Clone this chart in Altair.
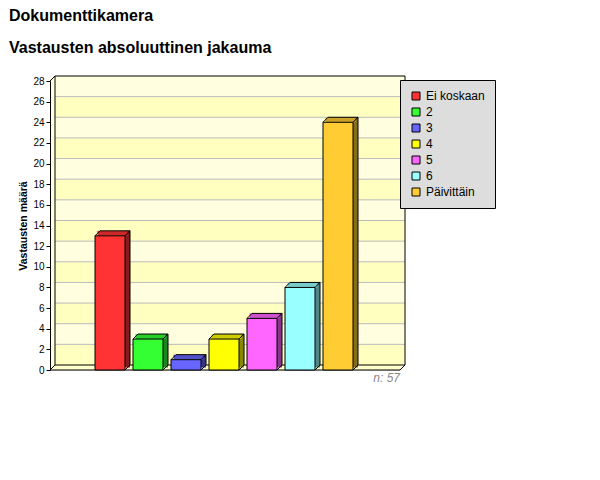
import altair as alt
import pandas as pd

# ---- data ----
categories = ["Ei koskaan", "2", "3", "4", "5", "6", "Päivittäin"]
counts = [13, 3, 1, 3, 5, 8, 24]
colors = ["#FF3333", "#33FF33", "#6666FF", "#FFFF00", "#FF66FF", "#99FFFF", "#FFCC33"]
y_ticks = list(range(0, 29, 2))
title_text = "Dokumenttikamera"
subtitle_text = "Vastausten absoluuttinen jakauma"
y_title = "Vastausten määrä"

# ---- style / layout constants ----
FONT = "Liberation Sans"
W, H = 350, 289          # front plot frame
D = 5                    # 3D depth in px
STEP, FIRST, BAR = 38, 60, 30
LIGHT, DARK = "#FFFFE0", "#FFFFC0"


def shade(hex_color, f):
    r, g, b = (int(hex_color[i:i + 2], 16) for i in (1, 3, 5))
    return "#{:02X}{:02X}{:02X}".format(int(r * f), int(g * f), int(b * f))


bars = pd.DataFrame({
    "cat": categories,
    "idx": list(range(len(categories))),
    "value": counts,
    "topc": [shade(c, 0.8) for c in colors],
    "sidec": [shade(c, 0.53) for c in colors],
})
bands = pd.DataFrame({"lo": y_ticks[:-1], "hi": y_ticks[1:]})
bands["shade"] = [LIGHT if (lo // 2) % 2 == 1 else DARK for lo in bands["lo"]]
grid = pd.DataFrame({"v": y_ticks[1:-1]})
frame = pd.DataFrame({"ymin": [y_ticks[0]], "ymax": [y_ticks[-1]]})

yscale = alt.Scale(domain=[y_ticks[0], y_ticks[-1]], nice=False, zero=True, padding=0)
yaxis = alt.Axis(values=y_ticks, tickSize=4, labelFontSize=10, labelFont=FONT,
                 labelColor="black", labelPadding=2, domainColor="black",
                 tickColor="black", grid=False, title=y_title, titleFont=FONT,
                 titleFontSize=10.5, titleFontWeight="bold", titleColor="black",
                 titlePadding=4, zindex=1)
xscale = alt.Scale(domain=[-FIRST / STEP, (W - FIRST) / STEP], nice=False, zero=False,
                   padding=0)


def Y(field):
    return alt.Y(field, type="quantitative", scale=yscale, axis=yaxis)


X = alt.X("idx:Q", scale=xscale, axis=None)

base_frame = alt.Chart(frame)

# walls
left_wall = base_frame.mark_rect(fill=LIGHT, yOffset=-D / 2, y2Offset=-D / 2).encode(
    x=alt.value(0), x2=alt.value(D), y=Y("ymax"), y2="ymin:Q")
floor = base_frame.mark_rect(fill="#FFFFCC", yOffset=-D, y2Offset=0).encode(
    x=alt.value(D / 2), x2=alt.value(W + D / 2), y=Y("ymin"), y2="ymin:Q")
stripes = alt.Chart(bands).mark_rect(yOffset=-D, y2Offset=-D).encode(
    x=alt.value(D), x2=alt.value(W + D), y=Y("lo"), y2="hi:Q",
    fill=alt.Fill("shade:N", scale=None))
gridlines = alt.Chart(grid).mark_rule(color="#BBBBBB", yOffset=-D).encode(
    x=alt.value(D), x2=alt.value(W + D), y=Y("v"))

edge = dict(color="black", strokeWidth=1)
back_top = base_frame.mark_rule(yOffset=-D, **edge).encode(
    x=alt.value(D), x2=alt.value(W + D), y=Y("ymax"))
back_bottom = base_frame.mark_rule(yOffset=-D, **edge).encode(
    x=alt.value(D), x2=alt.value(W + D), y=Y("ymin"))
back_left = base_frame.mark_rule(yOffset=-D, y2Offset=-D, **edge).encode(
    x=alt.value(D), y=Y("ymax"), y2="ymin:Q")
back_right = base_frame.mark_rule(yOffset=-D, y2Offset=-D, **edge).encode(
    x=alt.value(W + D), y=Y("ymax"), y2="ymin:Q")
front_bottom = base_frame.mark_rule(**edge).encode(
    x=alt.value(0), x2=alt.value(W), y=Y("ymin"))
diag_tl = base_frame.mark_rule(y2Offset=-D, **edge).encode(
    x=alt.value(0), x2=alt.value(D), y=Y("ymax"), y2="ymax:Q")
diag_bl = base_frame.mark_rule(y2Offset=-D, **edge).encode(
    x=alt.value(0), x2=alt.value(D), y=Y("ymin"), y2="ymin:Q")
diag_br = base_frame.mark_rule(y2Offset=-D, **edge).encode(
    x=alt.value(W), x2=alt.value(W + D), y=Y("ymin"), y2="ymin:Q")

# bars (3D)
bb = alt.Chart(bars)
side = bb.mark_bar(size=D, xOffset=BAR / 2 + D / 2, yOffset=-D, y2Offset=-D / 2).encode(
    x=X, y=Y("value"), y2=alt.Y2(datum=0), fill=alt.Fill("sidec:N", scale=None))
top = bb.mark_bar(size=BAR, xOffset=D / 2, yOffset=-D, y2Offset=0).encode(
    x=X, y=Y("value"), y2="value:Q", fill=alt.Fill("topc:N", scale=None))
front = bb.mark_bar(size=BAR, stroke="black", strokeWidth=1).encode(
    x=X, y=Y("value"),
    color=alt.Color("cat:N", scale=alt.Scale(domain=categories, range=colors),
                    legend=alt.Legend(title=None, orient="none", legendX=W, legendY=-1,
                                      fillColor="#DDDDDD", strokeColor="black",
                                      padding=10, symbolType="square", symbolSize=64,
                                      symbolStrokeColor="black", symbolStrokeWidth=1,
                                      symbolOpacity=1, labelFontSize=12,
                                      labelFont=FONT, labelColor="black",
                                      rowPadding=4, labelOffset=4, zindex=2)))
b_top = bb.mark_rule(xOffset=-BAR / 2 + D, x2Offset=BAR / 2 + D, yOffset=-D, **edge).encode(
    x=X, x2="idx:Q", y=Y("value"))
b_right = bb.mark_rule(xOffset=BAR / 2 + D, yOffset=-D, y2Offset=-D, **edge).encode(
    x=X, y=Y("value"), y2=alt.Y2(datum=0))
b_d1 = bb.mark_rule(xOffset=-BAR / 2, x2Offset=-BAR / 2 + D, y2Offset=-D, **edge).encode(
    x=X, x2="idx:Q", y=Y("value"), y2="value:Q")
b_d2 = bb.mark_rule(xOffset=BAR / 2, x2Offset=BAR / 2 + D, y2Offset=-D, **edge).encode(
    x=X, x2="idx:Q", y=Y("value"), y2="value:Q")
b_d3 = bb.mark_rule(xOffset=BAR / 2, x2Offset=BAR / 2 + D, y2Offset=-D, **edge).encode(
    x=X, x2="idx:Q", y=alt.Y(datum=0, type="quantitative", scale=yscale, axis=yaxis),
    y2=alt.Y2(datum=0))

n_text = alt.Chart(pd.DataFrame({"n": [sum(counts)]})).transform_calculate(
    label="'n: ' + datum.n").mark_text(
    align="right", baseline="middle", fontStyle="italic", fontSize=12,
    font=FONT, color="#888888").encode(
    x=alt.value(W), y=alt.value(H + 8), text="label:N")

chart = alt.layer(
    left_wall, floor, stripes, gridlines, back_top, back_bottom, back_left, back_right,
    front_bottom, diag_tl, diag_bl, diag_br,
    side, top, front, b_top, b_right, b_d1, b_d2, b_d3, n_text
).properties(
    width=W, height=H,
    padding={"left": 42, "top": 73, "right": 584 - 42 - W, "bottom": 464 - 73 - H},
    autosize=alt.AutoSizeParams(type="none"),
    title=alt.TitleParams(text=title_text, subtitle=subtitle_text, anchor="start",
                          frame="group", dx=-41, offset=20, font=FONT, fontSize=16,
                          fontWeight="bold", color="black", subtitleFont=FONT,
                          subtitleFontSize=16, subtitleFontWeight="bold",
                          subtitleColor="black", subtitlePadding=16),
).configure_view(strokeWidth=0).configure(font=FONT, background="white")

chart.save("out.html", embed_options={"renderer": "svg", "actions": False})
